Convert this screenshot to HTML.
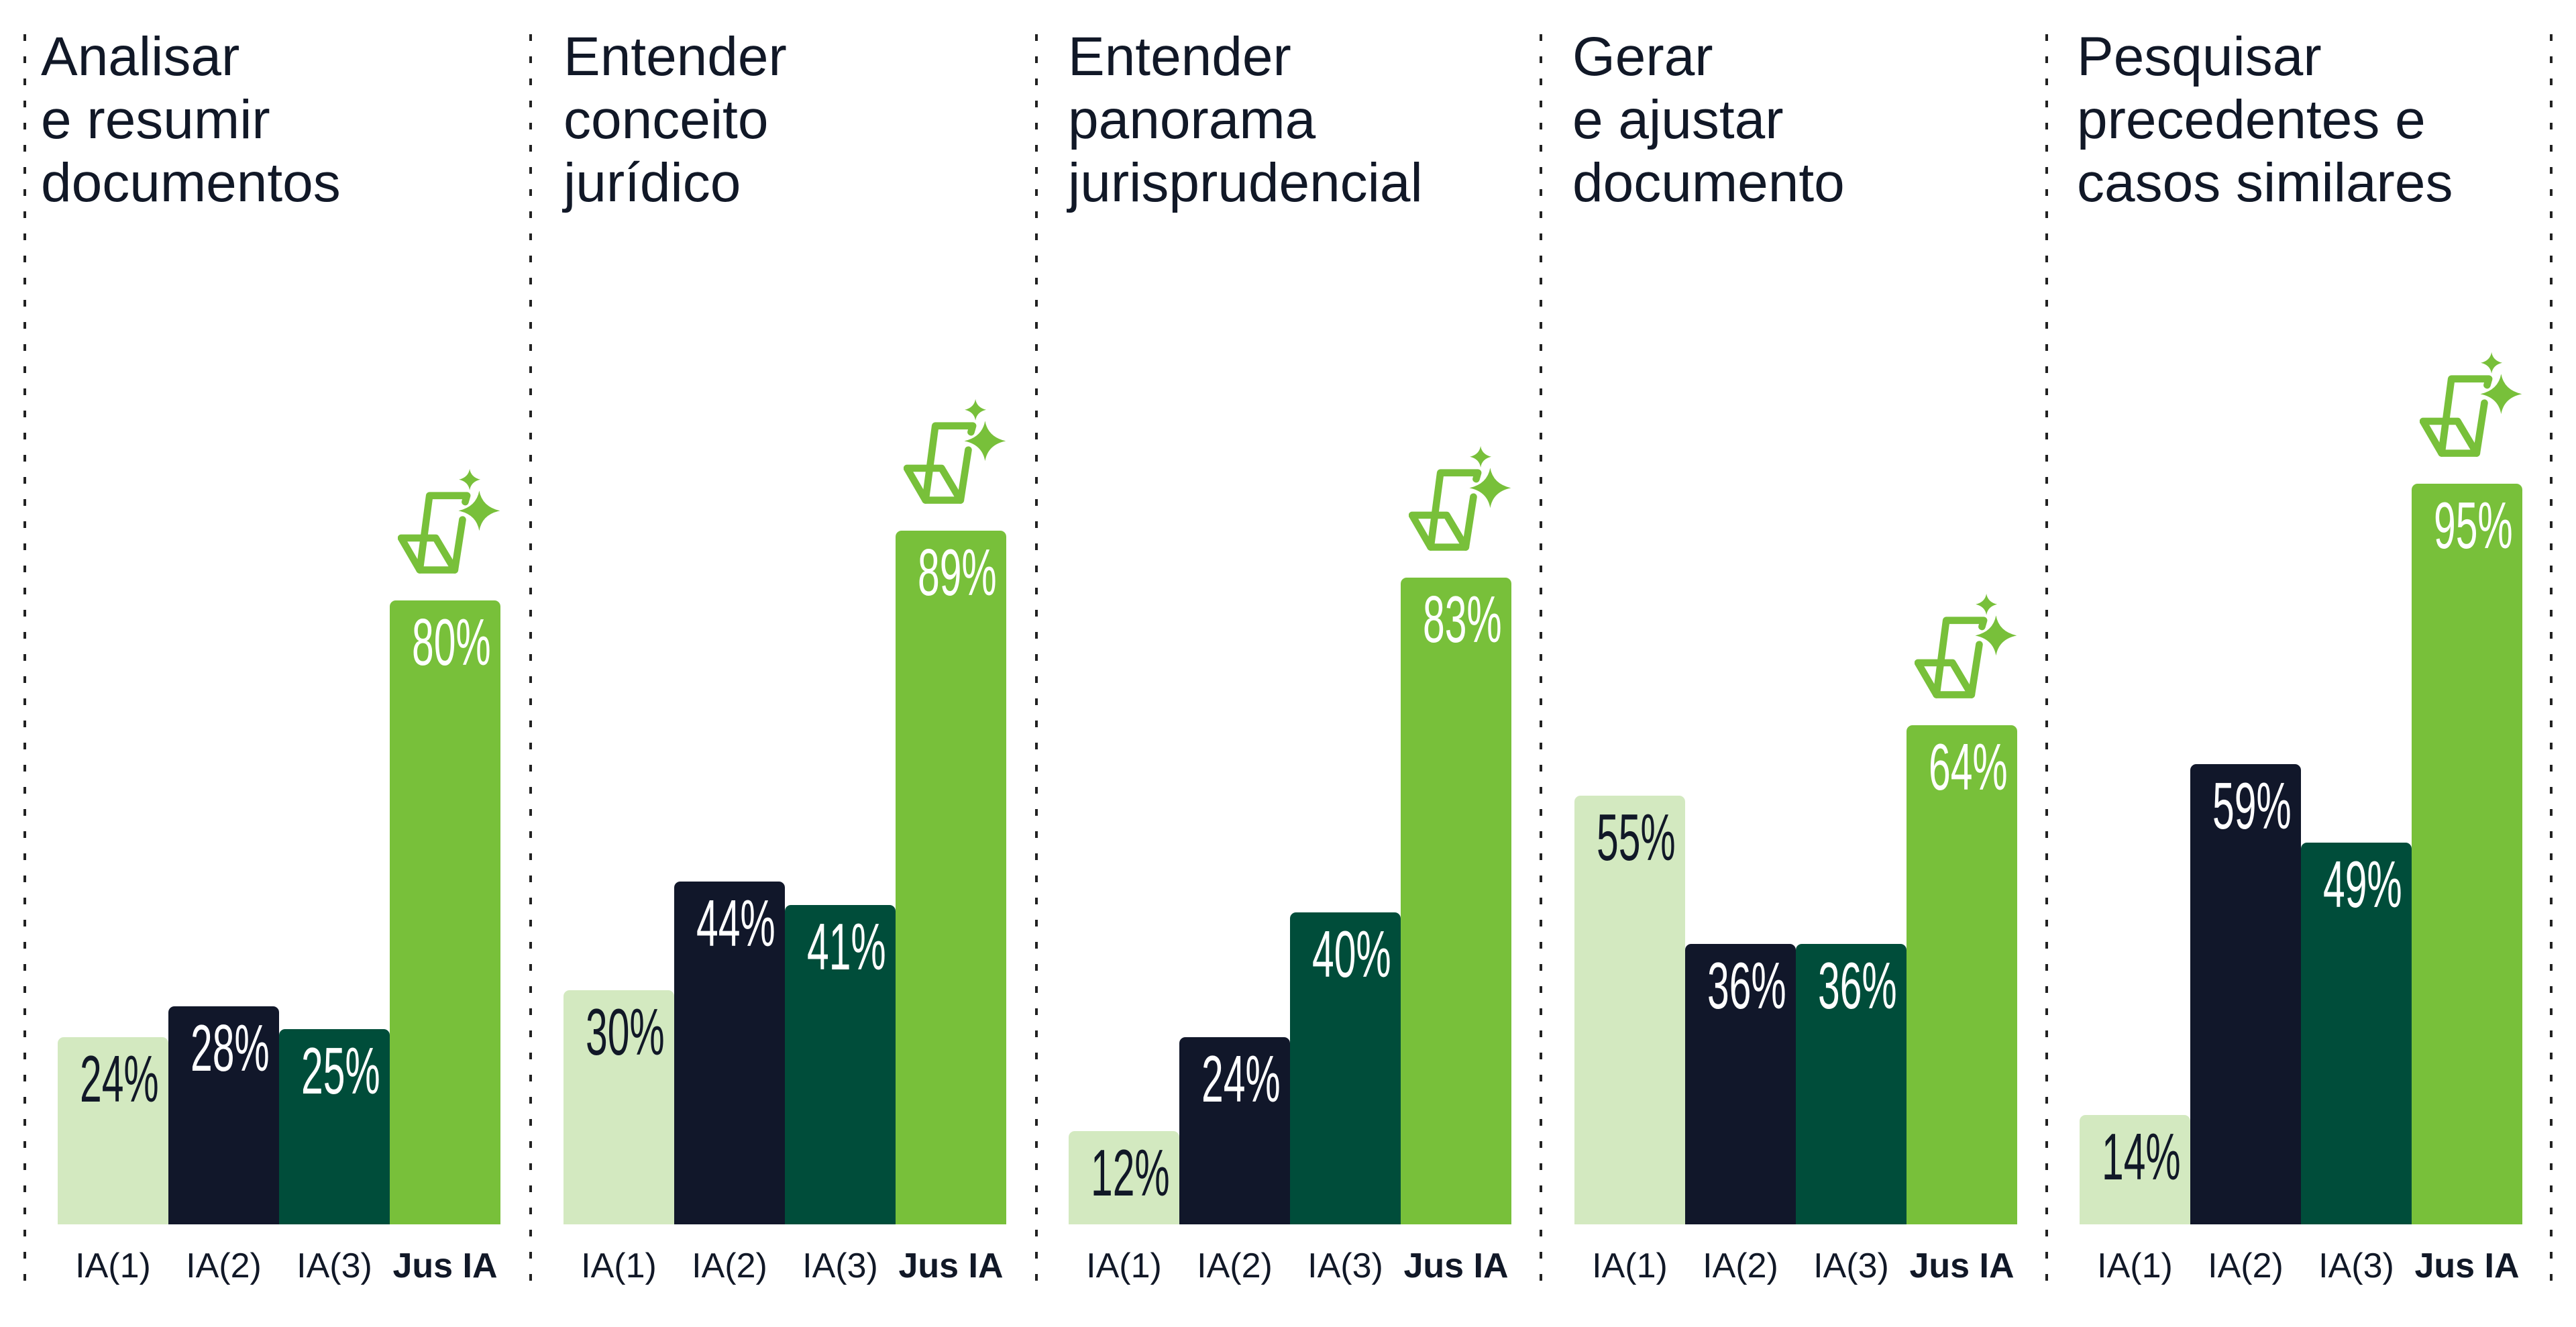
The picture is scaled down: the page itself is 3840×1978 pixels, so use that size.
<!DOCTYPE html>
<html><head><meta charset="utf-8"><style>
html,body{margin:0;padding:0;background:#fff;}
body{width:3840px;height:1978px;position:relative;overflow:hidden;font-family:"Liberation Sans",sans-serif;color:#111827;}
.dl{position:absolute;top:51px;width:4px;height:1865px;background:repeating-linear-gradient(to bottom,#222 0 10px,transparent 10px 33px);}
.t{position:absolute;top:38px;font-size:82px;line-height:94px;color:#111827;white-space:nowrap;}
.b{position:absolute;width:165px;border-radius:9px 9px 0 0;}
.v{position:absolute;width:165px;text-align:center;font-size:98px;line-height:98px;transform:scaleX(0.6);}
.x{position:absolute;top:1857px;width:165px;text-align:center;font-size:52px;line-height:60px;color:#111827;}
.ic{position:absolute;width:153px;height:160px;}
</style></head><body>
<div class="dl" style="left:35px"></div>
<div class="dl" style="left:789px"></div>
<div class="dl" style="left:1543px"></div>
<div class="dl" style="left:2295px"></div>
<div class="dl" style="left:3049px"></div>
<div class="dl" style="left:3801px"></div>

<div class="t" style="left:61px">Analisar<br>e resumir<br>documentos</div>
<div class="t" style="left:840px">Entender<br>conceito<br>jurídico</div>
<div class="t" style="left:1592px">Entender<br>panorama<br>jurisprudencial</div>
<div class="t" style="left:2344px">Gerar<br>e ajustar<br>documento</div>
<div class="t" style="left:3096px">Pesquisar<br>precedentes e<br>casos similares</div>

<div id="bars"></div>
<script>
(function(){
var data=[[24,28,25,80],[30,44,41,89],[12,24,40,83],[55,36,36,64],[14,59,49,95]];
var cols=['#d3e9c0','#11172a','#004d3a','#78c03a'];
var tc=['#111827','#fff','#fff','#fff'];
var names=['IA(1)','IA(2)','IA(3)','<b>Jus IA</b>'];
var base=1825,k=11.62,h='';
for(var g=0;g<5;g++){
 var gx=86+g*753.5;
 for(var i=0;i<4;i++){
  var x=Math.round(gx+i*165),hh=Math.round(data[g][i]*k),ty=base-hh;
  h+='<div class="b" style="left:'+x+'px;top:'+ty+'px;height:'+hh+'px;background:'+cols[i]+'"></div>';
  h+='<div class="v" style="left:'+x+'px;top:'+(ty+13)+'px;color:'+tc[i]+'">'+data[g][i]+'%</div>';
  h+='<div class="x" style="left:'+x+'px">'+names[i]+'</div>';
  if(i==3){
   h+='<svg class="ic" style="left:'+(x+12)+'px;top:'+(ty-197)+'px" viewBox="130 60 460 480"><g fill="none" stroke="#78c03a" stroke-width="32" stroke-linejoin="round" stroke-linecap="round"><path d="M432 210 L440 182 L272 182 L228 515 L385 515 L420 290"/><path d="M228 515 L145 372 L300 372 L385 515"/></g><path fill="#78c03a" d="M495 160 Q508 232 588 250 Q508 266 495 340 Q482 266 402 250 Q482 232 495 160Z"/><path fill="#78c03a" d="M452 62 Q458 100 500 110 Q458 120 452 158 Q446 120 404 110 Q446 100 452 62Z"/></svg>';
  }
 }
}
document.getElementById('bars').innerHTML=h;
})();
</script>
</body></html>
